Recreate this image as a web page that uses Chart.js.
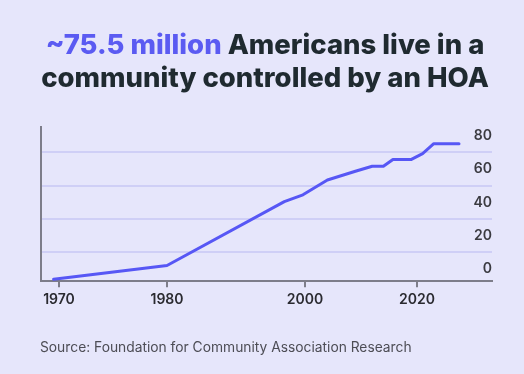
<!DOCTYPE html>
<html><head><meta charset="utf-8">
<script src="https://cdn.jsdelivr.net/npm/chart.js@4"></script>
<style>
html,body{margin:0;padding:0;background:#E6E6FB;width:524px;height:374px;overflow:hidden}
#wrap{position:absolute;left:0;top:0;width:524px;height:374px}
#title{position:absolute;left:6px;width:518px;top:28px;text-align:center;font-family:Inter,sans-serif;font-weight:800;font-size:27.5px;line-height:33px;color:#1f2a30;letter-spacing:0;white-space:nowrap}
#title .hl{color:#5b5bf2}
#src{position:absolute;left:40px;top:339px;font-family:Inter,sans-serif;font-size:13.8px;line-height:16px;color:#4d4d55}
</style></head>
<body>
<div id="wrap"><canvas id="c" width="524" height="374"></canvas></div>
<div id="title"><span class="hl">~75.5 million</span> Americans live in a<br>community controlled by an HOA</div>
<div id="src">Source: Foundation for Community Association Research</div>
<script>
// ---- data ----
const years = [1969.5, 1980, 1997, 1999.7, 2004, 2009, 2012, 2014, 2015.7, 2019, 2021, 2023, 2027.5];
const residentsMillions = [-6.1, 2.2, 40.4, 44.5, 53.4, 58.6, 61.6, 61.6, 65.7, 65.7, 69.2, 75.1, 75.1];
const xTickYears = [1970, 1980, 2000, 2020];
const yTickValues = [0, 20, 40, 60, 80];

// ---- layout: the reference's year axis is not uniform; tick years sit at these fractions of the axis ----
const knotFrac = [0.0399, 0.2794, 0.5854, 0.8337];
function toFrac(v){
  const ky = xTickYears, kf = knotFrac;
  let i;
  if (v <= ky[0]) i = 0;
  else if (v >= ky[ky.length-1]) i = ky.length-2;
  else { i = 0; while (v > ky[i+1]) i++; }
  return kf[i] + (v - ky[i]) * (kf[i+1]-kf[i]) / (ky[i+1]-ky[i]);
}
function fromFrac(f){
  const ky = xTickYears, kf = knotFrac;
  let i;
  if (f <= kf[0]) i = 0;
  else if (f >= kf[kf.length-1]) i = kf.length-2;
  else { i = 0; while (f > kf[i+1]) i++; }
  return ky[i] + (f - kf[i]) * (ky[i+1]-ky[i]) / (kf[i+1]-kf[i]);
}
class PiecewiseScale extends Chart.LinearScale {
  getPixelForValue(v){
    if (v === null || v === undefined || isNaN(v)) return NaN;
    return this.getPixelForDecimal(toFrac(v));
  }
  getValueForPixel(p){ return fromFrac(this.getDecimalForPixel(p)); }
}
PiecewiseScale.id = 'piecewise';
PiecewiseScale.defaults = Chart.LinearScale.defaults;
Chart.register(PiecewiseScale);

const gridValues = yTickValues.slice(1).map((v,i) => (v + yTickValues[i]) / 2);
const allY = yTickValues.concat(gridValues).sort((a,b)=>a-b);

Chart.defaults.font.family = 'Inter, sans-serif';

new Chart(document.getElementById('c'), {
  type: 'line',
  data: {
    datasets: [{
      data: years.map((y,i) => ({x: y, y: residentsMillions[i]})),
      borderColor: '#5757f5',
      borderWidth: 3,
      borderJoinStyle: 'round',
      borderCapStyle: 'round',
      pointRadius: 0,
      tension: 0,
      fill: false
    }]
  },
  options: {
    responsive: false,
    animation: false,
    devicePixelRatio: 1,
    layout: { padding: { top: 127, left: 41, right: 32, bottom: 62 } },
    plugins: { legend: {display: false}, tooltip: {enabled: false}, title: {display: false} },
    scales: {
      x: {
        type: 'piecewise',
        position: 'bottom',
        min: fromFrac(0), max: fromFrac(1),
        afterBuildTicks: s => { s.ticks = xTickYears.map(v => ({value: v})); },
        grid: { display: true, drawOnChartArea: false, drawTicks: true, tickLength: 6, color: '#7d7d8a', lineWidth: 2 },
        border: { display: true, color: '#7d7d8a', width: 2 },
        ticks: { color: '#2a2a30', font: {size: 14, weight: '600'}, padding: 4, maxRotation: 0, autoSkip: false,
                 callback: v => String(v) }
      },
      y: {
        type: 'linear',
        position: 'right',
        min: -7.2, max: 85.1,
        afterBuildTicks: s => { s.ticks = allY.map(v => ({value: v})); },
        grid: { display: true, drawTicks: false, tickLength: 0,
                color: c => gridValues.includes(c.tick && c.tick.value) ? '#cfcff6' : 'rgba(0,0,0,0)', lineWidth: 2 },
        border: { display: false },
        ticks: { mirror: true, padding: 0, color: '#3a3a40', font: {size: 14, weight: '600'}, autoSkip: false,
                 callback: v => yTickValues.includes(v) ? String(v) : '' }
      },
      yLeft: {
        type: 'linear',
        position: 'left',
        min: -7.2, max: 85.1,
        grid: { display: false, drawTicks: false, tickLength: 0 },
        border: { display: true, color: '#7d7d8a', width: 2 },
        ticks: { display: false }
      }
    }
  }
});
</script>
</body></html>
